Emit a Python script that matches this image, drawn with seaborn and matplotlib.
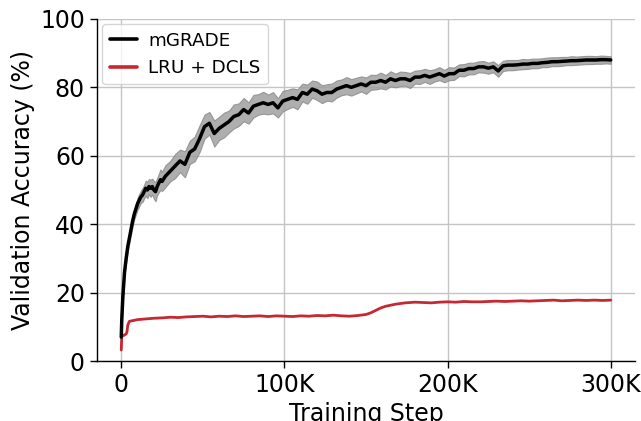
import numpy as np
import pandas as pd
import matplotlib
matplotlib.use("Agg")
import matplotlib.pyplot as plt
import seaborn as sns

# ---- data (steps in thousands) ----
mgrade_step = [0, 0.3, 1, 2, 3, 4, 5, 6, 7, 8, 9, 10, 11, 12, 13, 14, 15, 16, 17, 18, 19, 20,
               21, 22, 23, 24, 25, 27, 30, 33, 36, 39, 42, 45, 48, 51, 54, 57, 60, 63, 66, 69,
               72, 75, 78, 81, 84, 87, 90, 93, 96, 99, 102, 105, 108, 111, 114, 117, 120, 123,
               126, 129, 132, 135, 138, 141, 144, 147, 150, 153, 156, 159, 162, 165, 168, 171,
               174, 177, 180, 183, 186, 189, 192, 195, 198, 201, 204, 207, 210, 213, 216, 219,
               222, 225, 228, 231, 234, 237, 240, 243, 246, 249, 252, 255, 258, 261, 264, 267,
               270, 273, 276, 279, 282, 285, 288, 291, 294, 297, 300]
mgrade_acc = [7, 12, 19, 26, 30, 33.5, 36, 38.5, 41, 43, 44.5, 46, 47, 48, 48.5, 49.5, 50.5, 50,
              51, 50.5, 51, 50, 49.5, 51, 52, 53, 52.5, 54, 55.5, 57, 58.5, 57.5, 61, 62, 65,
              68.5, 69.5, 66.5, 68, 69, 70, 71.5, 72, 73.5, 72.5, 74.5, 75, 75.5, 75, 75.5, 74,
              76, 76.5, 77, 76.5, 78.5, 78, 79.5, 79, 78, 78.5, 78.5, 79.5, 80, 80.5, 80, 80.5,
              81, 80.5, 81.5, 81.5, 82, 81.5, 82.5, 82, 82.5, 82.5, 82, 83, 83, 83.5, 83, 83.5,
              84, 83.3, 84, 84, 85, 85, 85.5, 85.5, 86, 86, 85.6, 86, 84.8, 86.3, 86.5, 86.5,
              86.6, 86.8, 86.8, 87, 87, 87.2, 87.3, 87.5, 87.5, 87.6, 87.7, 87.8, 87.8, 87.9,
              88, 88, 88, 88.1, 88.1, 88]
mgrade_spread = [0.5, 0.8, 1.0, 1.0, 1.2, 1.2, 1.3, 1.4, 1.5, 1.5, 1.6, 1.7, 1.8, 1.8, 2.0, 2.0,
                 2.2, 2.4, 2.2, 2.5, 2.3, 2.6, 2.8, 2.5, 2.7, 3.0, 2.8, 3.2, 3.0, 3.5, 3.3, 3.8,
                 3.4, 3.6, 3.9, 3.5, 3.3, 3.8, 3.4, 3.6, 3.2, 3.5, 3.3, 3.4, 3.1, 3.3, 3.0, 3.2,
                 2.9, 3.1, 2.8, 3.0, 2.8, 2.7, 2.9, 2.6, 2.8, 2.5, 2.7, 2.6, 2.4, 2.6, 2.5, 2.3,
                 2.5, 2.4, 2.3, 2.2, 2.4, 2.2, 2.1, 2.3, 2.1, 2.2, 2.0, 2.1, 2.0, 2.2, 1.9, 2.0,
                 1.9, 2.0, 1.8, 1.9, 1.8, 1.9, 1.8, 1.7, 1.8, 1.7, 1.7, 1.6, 1.7, 1.6, 1.6, 1.7,
                 1.5, 1.5, 1.5, 1.4, 1.5, 1.4, 1.4, 1.4, 1.3, 1.4, 1.3, 1.3, 1.3, 1.2, 1.3, 1.2,
                 1.2, 1.2, 1.2, 1.1, 1.2, 1.1, 1.1]

lru_step = [0, 0.3, 1, 2, 3, 3.5, 4, 5, 7, 10, 15, 20, 25, 30, 35, 40, 45, 50, 55, 60, 65, 70,
            75, 80, 85, 90, 95, 100, 105, 110, 115, 120, 125, 130, 135, 140, 145, 150, 153, 156,
            159, 162, 165, 168, 171, 174, 177, 180, 185, 190, 195, 200, 205, 210, 215, 220, 225,
            230, 235, 240, 245, 250, 255, 260, 265, 270, 275, 280, 285, 290, 295, 300]
lru_acc = [3.2, 7.2, 7.4, 7.6, 7.9, 8.5, 10.5, 11.6, 11.8, 12.1, 12.3, 12.5, 12.6, 12.8, 12.7,
           12.9, 13.0, 13.1, 12.9, 13.1, 13.0, 13.2, 13.0, 13.1, 13.2, 13.0, 13.2, 13.1, 13.0,
           13.2, 13.1, 13.3, 13.2, 13.4, 13.2, 13.1, 13.3, 13.6, 14.1, 14.8, 15.5, 16.0, 16.3,
           16.6, 16.8, 17.0, 17.1, 17.2, 17.1, 17.0, 17.2, 17.3, 17.2, 17.4, 17.3, 17.3, 17.4,
           17.5, 17.4, 17.5, 17.6, 17.5, 17.6, 17.7, 17.8, 17.6, 17.7, 17.8, 17.7, 17.8, 17.7,
           17.8]

xtick_vals = [0, 100, 200, 300]
xtick_labels = ["0", "100K", "200K", "300K"]
ytick_vals = [0, 20, 40, 60, 80, 100]

# ---- build frames ----
df_m = pd.DataFrame({"step": np.array(mgrade_step) * 1000, "acc": mgrade_acc,
                     "spread": mgrade_spread})
df_l = pd.DataFrame({"step": np.array(lru_step) * 1000, "acc": lru_acc})

sns.set_style("ticks")
plt.rcParams["font.family"] = ["DejaVu Sans"]
plt.rcParams["text.color"] = "black"
plt.rcParams["axes.labelcolor"] = "black"

fig = plt.figure(figsize=(6.41, 4.21), dpi=100)
ax = fig.add_axes([0.151, 0.1425, 0.84, 0.8125])

ax.fill_between(df_m["step"], df_m["acc"] - df_m["spread"], df_m["acc"] + df_m["spread"],
                color="#a0a0a0", alpha=0.85, linewidth=0.8, edgecolor="#8c8c8c", zorder=2)
sns.lineplot(data=df_l, x="step", y="acc", ax=ax, color="#c62832", linewidth=2.0,
             label="LRU + DCLS", estimator=None, zorder=3)
sns.lineplot(data=df_m, x="step", y="acc", ax=ax, color="black", linewidth=2.5,
             label="mGRADE", estimator=None, zorder=4)

ax.set_ylim(0, 100)
ax.set_xlim(-15000, 315000)
ax.set_xticks(np.array(xtick_vals) * 1000)
ax.set_xticklabels(xtick_labels)
ax.set_yticks(ytick_vals)
ax.tick_params(labelsize=17, length=5, width=1, colors="black")
ax.grid(True, color="#c4c4c4", linewidth=1.0, zorder=0)
ax.set_axisbelow(True)
sns.despine(ax=ax)
for s in ("left", "bottom"):
    ax.spines[s].set_color("black")
    ax.spines[s].set_linewidth(1.0)

ax.set_xlabel("Training Step", fontsize=17)
ax.set_ylabel("Validation Accuracy (%)", fontsize=17)

handles, labels = ax.get_legend_handles_labels()
order = [labels.index("mGRADE"), labels.index("LRU + DCLS")]
leg = ax.legend([handles[i] for i in order], [labels[i] for i in order],
                loc="upper left", fontsize=13.2, frameon=True, borderaxespad=0.3,
                handlelength=1.5, handletextpad=0.6, borderpad=0.4, labelspacing=0.5)
for h in leg.get_lines():
    h.set_linewidth(2.6)

fig.savefig("out.png", dpi=100)
